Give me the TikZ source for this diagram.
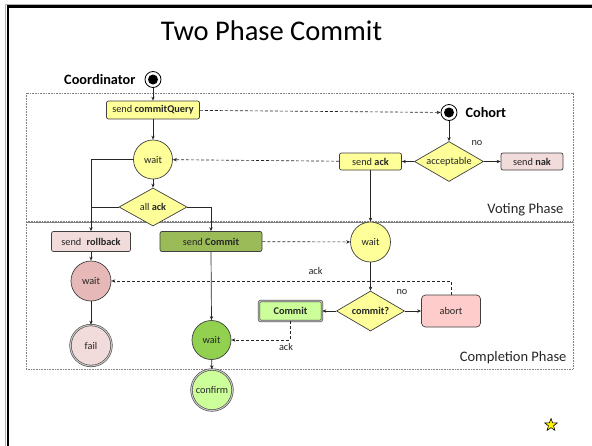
\documentclass[tikz,border=0pt]{standalone}
\usepackage{fontspec}
\setmainfont{Carlito}
\usetikzlibrary{shapes.geometric,arrows.meta}

\definecolor{edge}{HTML}{3F3F3F}
\definecolor{txt}{HTML}{262626}
\definecolor{ylw}{HTML}{FFFF99}
\definecolor{pinklt}{HTML}{F2DCDB}
\definecolor{rosewait}{HTML}{E6B9B8}
\definecolor{olive}{HTML}{9BBB59}
\definecolor{greenwait}{HTML}{92D050}
\definecolor{lime}{HTML}{CCFF99}
\definecolor{abortfill}{HTML}{FFCCCC}
\definecolor{phaseline}{HTML}{808080}

\begin{document}
\begin{tikzpicture}[x=1pt,y=-1pt,
  every node/.style={text=txt, font=\fontsize{10.3}{12}\selectfont},
  box/.style={rectangle, rounded corners=2pt, draw=edge, line width=0.7pt, inner sep=0pt},
  statecirc/.style={circle, draw=edge, line width=0.7pt, inner sep=0pt, minimum size=40pt},
  endcirc/.style={circle, draw=edge, double=gray!45, double distance=1.1pt, line width=0.55pt, inner sep=0pt, minimum size=41pt},
  decide/.style={diamond, draw=edge, line width=0.7pt, fill=ylw, inner sep=0pt, aspect=1.7},
  startring/.style={circle, draw=black, line width=0.8pt, fill=white, inner sep=0pt, minimum size=16pt},
  flow/.style={draw=black!85, line width=0.7pt, -{Stealth[length=4pt,width=3.4pt]}},
  msg/.style={draw=black!85, line width=0.65pt, dash pattern=on 3pt off 2pt, -{Stealth[length=4pt,width=3.4pt]}},
  phase/.style={draw=phaseline, line width=0.8pt, dash pattern=on 0.8pt off 0.8pt},
  phaselabel/.style={font=\fontsize{14.5}{17}\selectfont, text=txt},
  actor/.style={font=\bfseries\fontsize{14.3}{17}\selectfont, text=black}
]
\useasboundingbox (0,0) rectangle (592,445);
\clip (0,0) rectangle (592,445);

% slide frame
\draw[gray!60, line width=1pt] (5,4) rectangle (700,600);
\draw[black, line width=2.6pt] (8,6.5) rectangle (700,600);

% title
\node[font=\fontsize{28.5}{34}\selectfont, text=black, anchor=base] (title) at (271.5,40) {Two Phase Commit};

% phase frames
\draw[phase] (26,93) rectangle (573,222);
\draw[phase] (26,222) rectangle (573,369);
\draw[draw=phaseline, line width=1.4pt, dash pattern=on 0.8pt off 0.8pt] (26,222) -- (573,222);
\node[phaselabel, anchor=east] (votelbl) at (567,210) {Voting Phase};
\node[phaselabel, anchor=east] (donelbl) at (570,358) {Completion Phase};

% coordinator
\node[startring] (cstart) at (153,79.5) {};
\fill[black] (cstart.center) circle (5pt);
\node[actor, anchor=east] (coordlbl) at (139,79.5) {Coordinator};

\node[box, fill=ylw, minimum width=93pt, minimum height=18pt] (sendcq) at (153,110) {send \textbf{commitQuery}};
\node[statecirc, fill=ylw, minimum size=39pt] (wait1) at (153,159.5) {wait};
\node[decide, minimum width=68pt, minimum height=38pt] (allack) at (153,207) {all \textbf{ack}};

\node[box, fill=pinklt, minimum width=79pt, minimum height=20pt] (sendrb) at (91,241.5) {send\hspace{3pt} \textbf{rollback}};
\node[box, fill=olive, minimum width=102pt, minimum height=20pt] (sendcm) at (211,241.5) {send \textbf{Commit}};
\node[statecirc, fill=rosewait] (redwait) at (91,281) {wait};
\node[endcirc, fill=pinklt] (fail) at (91,345.5) {fail};
\node[statecirc, fill=greenwait, minimum size=39pt] (grwait) at (211.5,340) {wait};
\node[endcirc, fill=lime] (confirm) at (212,390) {confirm};

% cohort
\node[startring] (hstart) at (449,112.5) {};
\fill[black] (hstart.center) circle (5pt);
\node[actor, anchor=west] (cohortlbl) at (462,113) {Cohort};

\node[decide, minimum width=69pt, minimum height=40pt] (accept) at (449,161.5) {acceptable};
\node[box, fill=ylw, minimum width=62pt, minimum height=17pt] (sendack) at (370.5,161.5) {send \textbf{ack}};
\node[box, fill=pinklt, minimum width=62pt, minimum height=17pt] (sendnak) at (532,161.5) {send \textbf{nak}};
\node[statecirc, fill=ylw] (hwait) at (370.5,242) {wait};
\node[decide, minimum width=68pt, minimum height=40pt] (commitq) at (370.5,311) {\textbf{commit?}};
\node[box, rounded corners=4pt, fill=abortfill, minimum width=59pt, minimum height=32pt] (abort) at (451,311) {abort};
\node[rectangle, rounded corners=2pt, draw=edge, double=gray!55, double distance=1.2pt, line width=0.55pt, fill=lime, inner sep=0pt, minimum width=63pt, minimum height=20pt] (commitbox) at (290.5,311) {\textbf{Commit}};

% coordinator flow
\draw[flow] (cstart) -- (sendcq);
\draw[flow] (sendcq) -- (wait1);
\draw[flow] (wait1) -- (allack);
\draw[flow] (wait1.west) -| (sendrb.north);
\draw[draw=black!85, line width=0.7pt] (allack.west) -- (allack.west -| sendrb.north);
\draw[flow] (allack.east) -| (sendcm.north);
\draw[flow] (sendrb) -- (redwait);
\draw[flow] (redwait) -- (fail);
\draw[flow] (sendcm.south) -- (grwait.north);
\draw[flow] (grwait) -- (confirm);

% cohort flow
\draw[flow] (hstart) -- (accept);
\draw[flow] (accept) -- (sendack);
\draw[flow] (accept) -- (sendnak);
\node (nolbl1) at (477,143.5) {no};
\draw[flow] (sendack) -- (hwait);
\draw[flow] (hwait) -- (commitq);
\draw[flow] (commitq) -- (commitbox);
\draw[flow] (commitq) -- (abort);
\node (nolbl2) at (402,292) {no};

% messages
\draw[msg] (sendcq) -- (hstart);
\draw[msg] (sendack) -- (wait1);
\draw[msg] (sendcm) -- (hwait);
\draw[msg] (abort.north) |- (redwait.east);
\node (acklbl1) at (315.5,271) {ack};
\draw[msg] (commitbox.south) |- (grwait.east);
\node (acklbl2) at (286,346.5) {ack};

% star
\node[star, star points=5, star point ratio=2.4, draw=black, line width=0.6pt, fill=yellow, minimum size=13pt, inner sep=0pt] (mark) at (551,425) {};
\end{tikzpicture}
\end{document}
